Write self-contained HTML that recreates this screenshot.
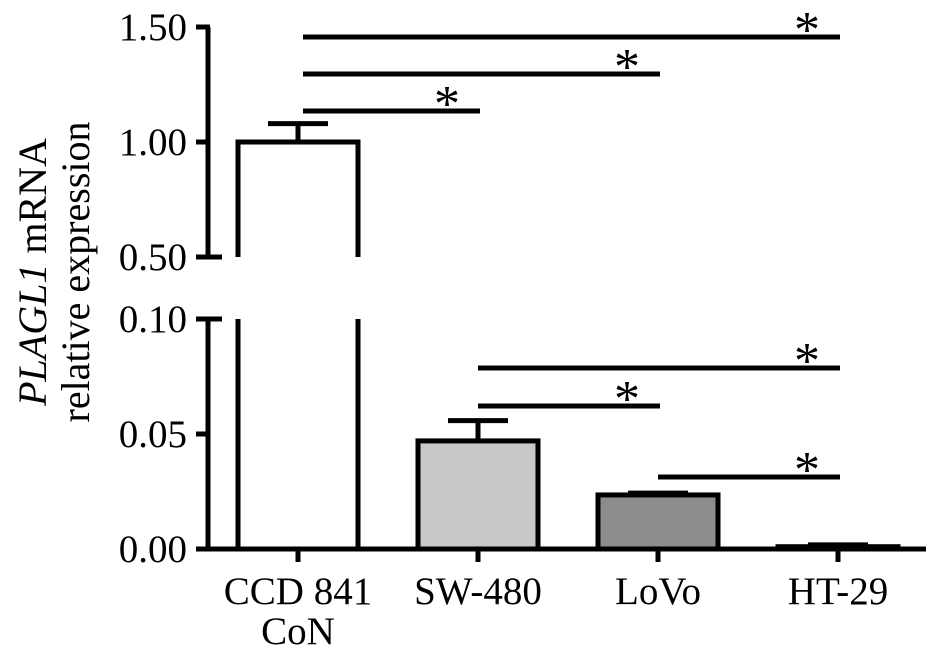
<!DOCTYPE html>
<html><head><meta charset="utf-8"><style>
body{margin:0;background:#fff}
svg{display:block;font-family:"Liberation Serif",serif}
</style></head><body>
<svg id="c" width="945" height="664" viewBox="0 0 945 664">
<g id="g"></g>
<text transform="translate(46,272) rotate(-90)" text-anchor="middle" font-size="40"><tspan font-style="italic">PLAGL1</tspan> mRNA</text>
<text transform="translate(89,272) rotate(-90)" text-anchor="middle" font-size="40">relative expression</text>
</svg>
<script>
const categories=["CCD 841|CoN","SW-480","LoVo","HT-29"];
const values=[1.0,0.047,0.0235,0.001];
const errors=[0.08,0.0088,0.0008,0.0008];
const fills=["#fff","#c8c8c8","#8c8c8c","#fff"];
const upperTicks=["0.50","1.00","1.50"];
const lowerTicks=["0.00","0.05","0.10"];
const sigPairs=[[0,3,37],[0,2,74],[0,1,111],[1,3,368],[1,2,406],[2,3,477]];
const NS="http://www.w3.org/2000/svg",g=document.getElementById('g');
function yL(v){return 549-(v/0.05)*115;}
function yU(v){return 257-((v-0.5)/0.5)*115;}
function y(v){return v<=0.1?yL(v):yU(v);}
function xc(i){return 298+i*180;}
function el(t,a){const e=document.createElementNS(NS,t);for(const k in a)e.setAttribute(k,a[k]);g.appendChild(e);return e;}
const S={stroke:"#000","stroke-width":5,fill:"none"};
let e;
e=el('line',Object.assign({x1:208,y1:yU(1.5),x2:208,y2:yU(0.5)},S));
e=el('line',Object.assign({x1:208,y1:yL(0.1),x2:208,y2:yL(0)},S));
e=el('line',Object.assign({x1:196,y1:549,x2:926,y2:549},S));
upperTicks.forEach(t=>{const v=+t;el('line',Object.assign({x1:196,x2:v==0.5?222:210,y1:yU(v),y2:yU(v)},S));
e=el('text',{x:187,y:yU(v)+13,'text-anchor':'end','font-size':39});e.textContent=t;});
lowerTicks.forEach(t=>{const v=+t;el('line',Object.assign({x1:196,x2:v==0.1?222:210,y1:yL(v),y2:yL(v)},S));
e=el('text',{x:187,y:yL(v)+13,'text-anchor':'end','font-size':39});e.textContent=t;});
categories.forEach((c,i)=>{const x=xc(i),v=values[i];
el('line',Object.assign({x1:x,x2:x,y1:549,y2:562},S));
const parts=c.split('|');parts.forEach((p,j)=>{e=el('text',{x:x,y:604+j*40,'text-anchor':'middle','font-size':39});e.textContent=p;});
const top=y(v+errors[i]);el('line',Object.assign({x1:x,x2:x,y1:y(v),y2:top},S));el('line',Object.assign({x1:x-30,x2:x+30,y1:top,y2:top},S));
if(v>0.1){e=el('path',Object.assign({d:`M${x-60},${yU(0.5)}V${y(v)}H${x+60}V${yU(0.5)}M${x-60},${yL(0.1)}V549M${x+60},${yL(0.1)}V549`},S));}
else{e=el('rect',Object.assign({},S,{x:x-60,y:y(v),width:120,height:549-y(v),fill:fills[i]}));}

});
sigPairs.forEach(p=>{const x1=xc(p[0])+(p[0]==0?5:0),x2=xc(p[1])+2,yy=p[2];
e=el('line',Object.assign({x1:x1,x2:x2,y1:yy,y2:yy},S));
e=el('text',{x:x2-33,y:yy+10,'text-anchor':'middle','font-size':52});e.textContent='*';});
</script>
</body></html>
